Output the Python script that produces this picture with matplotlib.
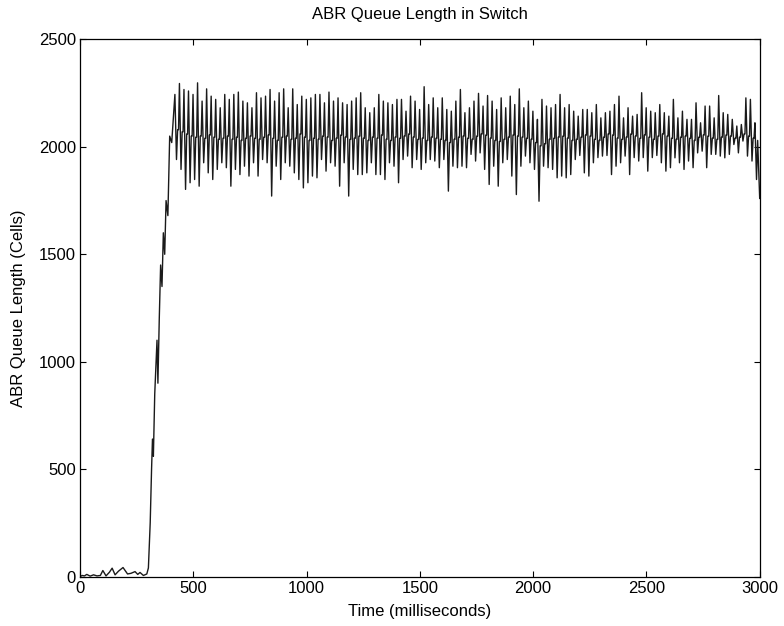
import numpy as np
import matplotlib
matplotlib.use('Agg')
import matplotlib.pyplot as plt

plt.rcParams['font.family'] = ['Liberation Sans', 'DejaVu Sans']

# start-up: small bumps before the queue builds (ms, cells)
t_start = [0, 10, 20, 30, 45, 60, 75, 90, 101, 115, 130, 142, 155, 170, 190,
           210, 225, 243, 255, 265, 280, 295]
q_start = [0, 5, 3, 10, 2, 8, 3, 5, 28, 3, 20, 39, 8, 25, 42, 12, 15, 23, 10,
           19, 5, 12]

# ramp up
t_ramp = [302, 310, 316, 320, 324, 330, 336, 340, 344, 350, 356, 362, 368,
          374, 380, 388, 396, 405]
q_ramp = [40, 250, 500, 640, 560, 850, 1000, 1100, 900, 1200, 1450, 1350,
          1600, 1500, 1750, 1680, 2050, 2020]

# steady state oscillation, one entry per ~20 ms cycle
first_peak = 419
cycle_ms = 20
peaks = [2244, 2295, 2267, 2260, 2244, 2298, 2213, 2270, 2236, 2221, 2182, 2244,
         2221, 2244, 2255, 2213, 2205, 2182, 2252, 2228,
         2236, 2267, 2213, 2252, 2270, 2182, 2270, 2197, 2236, 2221, 2228, 2244,
         2244, 2205, 2255, 2213, 2228, 2205, 2197, 2213, 2228, 2252,
         2182, 2159, 2182, 2244, 2213, 2205, 2197, 2221, 2221, 2166, 2236, 2213,
         2174, 2280, 2197, 2228, 2182, 2228, 2174, 2166, 2213, 2267,
         2159, 2182, 2213, 2249, 2190, 2239, 2213, 2174, 2228, 2182, 2236, 2197,
         2270, 2182, 2213, 2166, 2128, 2221, 2190, 2182, 2197, 2244,
         2182, 2197, 2166, 2143, 2174, 2174, 2159, 2197, 2135, 2159, 2166, 2197,
         2236, 2135, 2182, 2143, 2151, 2252, 2182, 2166, 2159, 2197,
         2159, 2143, 2221, 2135, 2166, 2128, 2128, 2205, 2112, 2190, 2190, 2135,
         2239, 2159, 2151, 2128, 2097, 2104, 2228, 2221, 2112]
troughs = [1941, 1895, 1802, 1833, 1848, 1817, 1926, 1879, 1848, 1895, 1926,
           1903, 1817, 1895, 1871, 1910, 1864, 1926, 1864,
           1941, 1926, 1771, 1910, 1848, 1926, 1910, 1879, 1848, 1809, 1833,
           1864, 1856, 1941, 1887, 1926, 1910, 1817, 1926, 1771, 1895, 1871,
           1871, 1879, 1926, 1871, 1871, 1848, 1926, 1910, 1833, 1941, 1957,
           1903, 1941, 1895, 1926, 1941, 1934, 1903, 1941, 1794, 1910, 1903,
           1910, 1903, 1965, 1934, 1972, 1895, 1825, 1910, 1817, 1926, 1941,
           1864, 1778, 1910, 1957, 1926, 1895, 1747, 1910, 1903, 1895, 1856,
           1864, 1856, 1871, 1941, 1960, 1879, 1864, 1926, 1950, 1957, 1960,
           1871, 1910, 1926, 1957, 1871, 1950, 1934, 1950, 1887, 1950, 1960,
           1926, 1887, 1903, 1949, 1926, 1895, 1934, 1903, 1972, 1980, 1903,
           1965, 1965, 1957, 1949, 1965, 2011, 1972, 2027, 1957, 1934, 1848]
mids = [2080, 2070, 2060, 2050, 2045, 2050, 2040, 2055, 2045, 2035, 2040, 2050,
        2035, 2045, 2030, 2040, 2050, 2040, 2035, 2045,
        2055, 2040, 2030, 2045, 2050, 2035, 2040, 2060, 2045, 2030, 2040, 2035,
        2050, 2045, 2030, 2040, 2055, 2045, 2035, 2040, 2050, 2040,
        2030, 2045, 2040, 2055, 2035, 2030, 2045, 2040, 2050, 2060, 2045, 2035,
        2040, 2030, 2045, 2040, 2035, 2030, 2020, 2035, 2045, 2050,
        2040, 2035, 2050, 2060, 2055, 2040, 2030, 2025, 2035, 2045, 2055, 2050,
        2045, 2040, 2035, 2020, 2005, 2015, 2035, 2040, 2045, 2050,
        2040, 2030, 2035, 2045, 2055, 2050, 2035, 2030, 2045, 2060, 2055, 2040,
        2035, 2045, 2060, 2050, 2040, 2055, 2045, 2035, 2050, 2060,
        2050, 2040, 2035, 2045, 2050, 2040, 2030, 2045, 2055, 2050, 2040, 2035,
        2045, 2055, 2050, 2040, 2045, 2060, 2050, 2040, 2030]
q_end = 1760

# assemble the line: mid -> peak -> trough -> mid per cycle
t_osc, q_osc = [], []
for i, (p, tr, m) in enumerate(zip(peaks, troughs, mids)):
    tp = first_peak + i * cycle_ms
    t_osc += [tp, tp + 7, tp + 12, tp + 16]
    q_osc += [p, tr, m, m]
t_all = np.array(t_start + t_ramp + t_osc[:-1] + [3000])
q_all = np.array(q_start + q_ramp + q_osc[:-1] + [q_end])

fig = plt.figure(figsize=(7.84, 6.26), dpi=100)
ax = fig.add_axes([0.102, 0.079, 0.867, 0.858])
ax.plot(t_all, q_all, color='#1a1a1a', linewidth=1.0)

ax.set_xlim(0, 3000)
ax.set_ylim(0, 2500)
ax.set_xticks(np.arange(0, 3001, 500))
ax.set_yticks(np.arange(0, 2501, 500))
ax.tick_params(direction='in', top=True, right=True, labelsize=12, length=4,
               pad=3)
for s in ax.spines.values():
    s.set_linewidth(0.9)

ax.set_title('ABR Queue Length in Switch', fontsize=12, pad=15)
ax.set_xlabel('Time (milliseconds)', fontsize=12, labelpad=6)
ax.set_ylabel('ABR Queue Length (Cells)', fontsize=12, labelpad=9)

plt.savefig('out.png', dpi=100)
